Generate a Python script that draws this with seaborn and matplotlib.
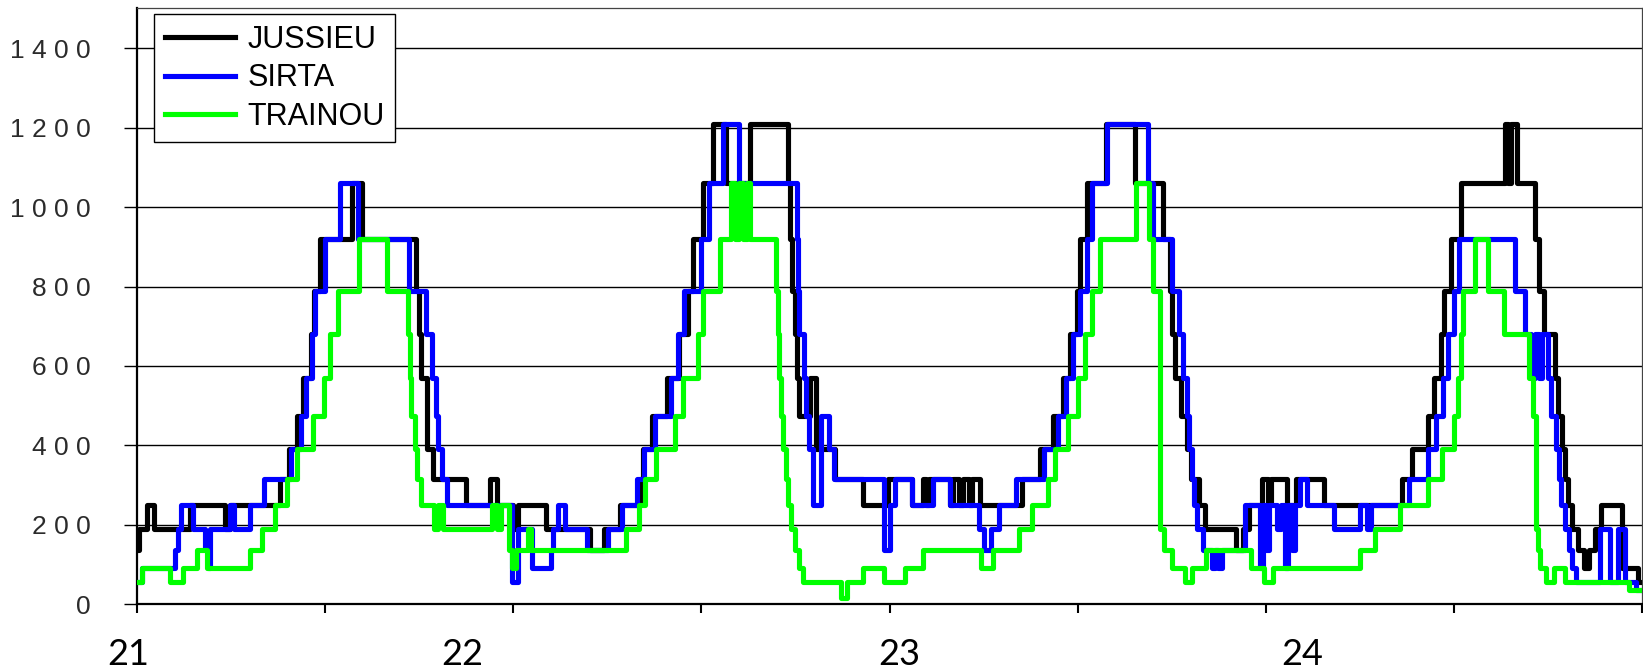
import numpy as np
import pandas as pd
import matplotlib
matplotlib.use("Agg")
import matplotlib.pyplot as plt
from matplotlib.ticker import MultipleLocator
import seaborn as sns

# ---------------- data (day of month, mixing-layer height in m) ----------------
jussieu_t = [21.000, 21.004, 21.026, 21.045, 21.141, 21.234, 21.247, 21.380, 21.405, 21.425,
             21.442, 21.462, 21.470, 21.486, 21.572, 21.598, 21.741, 21.750, 21.755, 21.770,
             21.788, 21.875, 21.938, 21.958, 22.000, 22.012, 22.088, 22.205, 22.240, 22.284,
             22.337, 22.345, 22.369, 22.409, 22.440, 22.465, 22.478, 22.505, 22.531, 22.565,
             22.630, 22.731, 22.736, 22.740, 22.748, 22.754, 22.760, 22.789, 22.805, 22.855,
             22.930, 22.995, 23.060, 23.088, 23.098, 23.106, 23.160, 23.168, 23.185, 23.195,
             23.210, 23.218, 23.241, 23.352, 23.400, 23.435, 23.462, 23.480, 23.498, 23.507,
             23.525, 23.575, 23.652, 23.727, 23.745, 23.752, 23.760, 23.775, 23.790, 23.800,
             23.822, 23.838, 23.920, 23.940, 23.955, 23.990, 24.005, 24.015, 24.056, 24.080,
             24.155, 24.363, 24.390, 24.430, 24.447, 24.465, 24.475, 24.492, 24.518, 24.636,
             24.645, 24.652, 24.668, 24.715, 24.725, 24.740, 24.768, 24.778, 24.788, 24.795,
             24.803, 24.813, 24.830, 24.845, 24.858, 24.875, 24.890, 24.948, 24.990, 25.000]
jussieu_h = [135, 190, 250, 190, 250, 190, 250, 315, 390, 475,
             570, 680, 790, 920, 1060, 920, 790, 680, 570, 390,
             315, 250, 315, 250, 190, 250, 190, 135, 190, 250,
             315, 390, 475, 570, 680, 790, 920, 1060, 1210, 1060,
             1210, 1060, 920, 790, 680, 570, 475, 570, 390, 315,
             250, 315, 250, 315, 250, 315, 250, 315, 250, 315,
             250, 315, 250, 315, 390, 475, 570, 680, 790, 920,
             1060, 1210, 1060, 920, 790, 680, 570, 475, 390, 315,
             250, 190, 135, 190, 250, 315, 250, 315, 250, 315,
             250, 315, 390, 475, 570, 680, 790, 920, 1060, 1210,
             1060, 1210, 1060, 920, 790, 680, 570, 475, 390, 315,
             250, 190, 135, 90, 135, 190, 250, 90, 55, 55]

sirta_t = [21.000, 21.014, 21.100, 21.108, 21.118, 21.148, 21.180, 21.188, 21.194, 21.247,
           21.258, 21.300, 21.338, 21.410, 21.437, 21.450, 21.464, 21.473, 21.500, 21.540,
           21.588, 21.722, 21.768, 21.785, 21.795, 21.800, 21.810, 21.825, 21.998, 22.012,
           22.050, 22.100, 22.106, 22.120, 22.137, 22.195, 22.252, 22.290, 22.330, 22.347,
           22.377, 22.420, 22.437, 22.455, 22.500, 22.520, 22.558, 22.600, 22.754, 22.757,
           22.760, 22.772, 22.778, 22.785, 22.798, 22.818, 22.838, 22.852, 22.985, 23.000,
           23.015, 23.060, 23.116, 23.160, 23.237, 23.250, 23.270, 23.290, 23.335, 23.410,
           23.447, 23.470, 23.488, 23.505, 23.525, 23.537, 23.578, 23.686, 23.700, 23.750,
           23.770, 23.780, 23.790, 23.797, 23.803, 23.810, 23.818, 23.832, 23.856, 23.866,
           23.874, 23.884, 23.945, 23.984, 23.992, 24.000, 24.008, 24.030, 24.040, 24.050,
           24.060, 24.070, 24.078, 24.090, 24.110, 24.182, 24.250, 24.268, 24.280, 24.380,
           24.430, 24.452, 24.470, 24.485, 24.500, 24.514, 24.663, 24.690, 24.705, 24.715,
           24.725, 24.735, 24.750, 24.757, 24.772, 24.780, 24.785, 24.795, 24.805, 24.815,
           24.825, 24.888, 24.915, 24.937, 24.955, 24.985, 25.000]
sirta_h = [55, 90, 135, 190, 250, 190, 135, 90, 190, 250,
           190, 250, 315, 390, 475, 570, 680, 790, 920, 1060,
           920, 790, 680, 570, 475, 390, 315, 250, 55, 190,
           90, 135, 190, 250, 190, 135, 190, 250, 315, 390,
           475, 570, 680, 790, 920, 1060, 1210, 1060, 920, 790,
           680, 570, 475, 390, 250, 475, 390, 315, 135, 250,
           315, 250, 315, 250, 190, 135, 190, 250, 315, 390,
           475, 570, 680, 790, 920, 1060, 1210, 1060, 920, 790,
           680, 570, 475, 390, 315, 250, 190, 135, 90, 135,
           90, 135, 250, 90, 250, 135, 250, 190, 250, 90,
           250, 135, 250, 315, 250, 190, 250, 190, 250, 315,
           390, 475, 570, 680, 790, 920, 790, 680, 570, 680,
           570, 680, 570, 475, 390, 315, 250, 190, 135, 90,
           55, 190, 55, 190, 55, 35, 35]

trainou_t = [21.000, 21.012, 21.088, 21.122, 21.160, 21.185, 21.300, 21.332, 21.367, 21.398,
             21.425, 21.469, 21.496, 21.513, 21.535, 21.590, 21.665, 21.720, 21.725, 21.728,
             21.738, 21.745, 21.755, 21.790, 21.800, 21.812, 21.944, 21.958, 21.968, 21.990,
             21.997, 22.006, 22.038, 22.048, 22.300, 22.335, 22.350, 22.380, 22.430, 22.450,
             22.490, 22.505, 22.550, 22.580, 22.590, 22.600, 22.610, 22.620, 22.630, 22.698,
             22.703, 22.707, 22.712, 22.718, 22.724, 22.730, 22.738, 22.750, 22.760, 22.770,
             22.870, 22.886, 22.930, 22.985, 23.040, 23.090, 23.243, 23.276, 23.345, 23.380,
             23.420, 23.440, 23.475, 23.500, 23.520, 23.537, 23.560, 23.655, 23.690, 23.700,
             23.720, 23.730, 23.750, 23.785, 23.805, 23.842, 23.960, 23.995, 24.018, 24.250,
             24.290, 24.358, 24.430, 24.468, 24.500, 24.510, 24.520, 24.525, 24.556, 24.590,
             24.632, 24.700, 24.710, 24.717, 24.724, 24.730, 24.745, 24.765, 24.795, 24.965,
             25.000]
trainou_h = [55, 90, 55, 90, 135, 90, 135, 190, 250, 315,
             390, 475, 570, 680, 790, 920, 790, 680, 570, 475,
             390, 315, 250, 190, 250, 190, 250, 190, 250, 135,
             90, 135, 190, 135, 190, 250, 315, 390, 475, 570,
             680, 790, 920, 1060, 920, 1060, 920, 1060, 920, 790,
             680, 570, 475, 390, 315, 250, 190, 135, 90, 55,
             15, 55, 90, 55, 90, 135, 90, 135, 190, 250,
             315, 390, 475, 570, 680, 790, 920, 1060, 920, 790,
             190, 135, 90, 55, 90, 135, 90, 55, 90, 135,
             190, 250, 315, 390, 475, 570, 680, 790, 920, 790,
             680, 570, 475, 190, 135, 90, 55, 90, 55, 35,
             35]

series_names = ["JUSSIEU", "SIRTA", "TRAINOU"]
series_colors = ["#000000", "#0000FF", "#00FF00"]
ytick_values = [0, 200, 400, 600, 800, 1000, 1200, 1400]
ytick_labels = ["0", "2 0 0", "4 0 0", "6 0 0", "8 0 0", "1 0 0 0", "1 2 0 0", "1 4 0 0"]
day_labels = ["21", "22", "23", "24"]
day_label_pos = [20.976, 21.864, 23.026, 24.097]

# ---------------- figure ----------------
W, H = 1643, 672
fig = plt.figure(figsize=(W / 100, H / 100), dpi=100)
ax = fig.add_axes([137 / W, (H - 604) / H, (1642 - 137) / W, (604 - 8) / H])

frames = [
    pd.DataFrame({"t": jussieu_t, "h": jussieu_h}),
    pd.DataFrame({"t": sirta_t, "h": sirta_h}),
    pd.DataFrame({"t": trainou_t, "h": trainou_h}),
]
for df, name, col in zip(frames, series_names, series_colors):
    sns.lineplot(data=df, x="t", y="h", ax=ax, color=col, linewidth=3.7,
                 drawstyle="steps-post", estimator=None, sort=False, label=name,
                 zorder=3)

ax.set_xlim(21, 25)
ax.set_ylim(0, 1502)
ax.set_xlabel("")
ax.set_ylabel("")

# y axis
ax.set_yticks(ytick_values)
ax.set_yticklabels(ytick_labels, fontfamily="Liberation Sans", fontsize=19, color="#2b2b2b")
ax.tick_params(axis="y", direction="out", length=9.5, width=1.0, color="black", pad=24)
ax.yaxis.grid(True, color="black", linewidth=1.0, zorder=0)
ax.set_axisbelow(True)

# x axis
ax.xaxis.set_major_locator(MultipleLocator(0.5))
ax.set_xticklabels([])
ax.tick_params(axis="x", direction="out", length=6.5, width=1.5, color="black")
for lab, pos in zip(day_labels, day_label_pos):
    ax.text(pos, -(665 - 604) / (604 - 8), lab, transform=ax.get_xaxis_transform(),
            ha="center", va="baseline", fontsize=26, fontfamily="Lato", color="black")

for side in ["left", "bottom"]:
    ax.spines[side].set_linewidth(1.6)
    ax.spines[side].set_color("black")
for side in ["top", "right"]:
    ax.spines[side].set_linewidth(0.9)
    ax.spines[side].set_color("#444444")

leg = ax.legend(loc="upper left", bbox_to_anchor=(0.0113, 0.9900), borderaxespad=0,
                frameon=True, fancybox=False, framealpha=1, edgecolor="black",
                prop={"family": "Liberation Sans", "size": 22},
                handlelength=2.3, handletextpad=0.4, labelspacing=0.28, borderpad=0.35)
leg.get_frame().set_linewidth(1.0)
for line in leg.get_lines():
    line.set_linewidth(3.7)

fig.savefig("out.png", dpi=100)
